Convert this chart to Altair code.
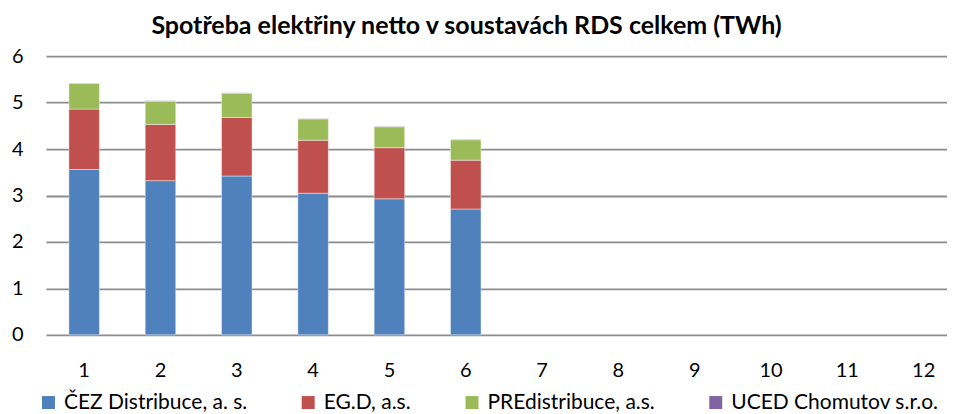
import altair as alt
import pandas as pd

months = [str(m) for m in range(1, 13)]
series = ["ČEZ Distribuce, a. s.", "EG.D, a.s.", "PREdistribuce, a.s.", "UCED Chomutov s.r.o."]
colors = ["#4F81BD", "#C0504D", "#9BBB59", "#8064A2"]

cez = [3.56, 3.32, 3.42, 3.05, 2.93, 2.71]
egd = [1.30, 1.21, 1.26, 1.14, 1.10, 1.05]
pre = [0.55, 0.50, 0.52, 0.46, 0.45, 0.44]
uced = [0.01, 0.01, 0.01, 0.01, 0.01, 0.01]

rows = []
for si, (name, vals) in enumerate(zip(series, [cez, egd, pre, uced])):
    for mi, v in enumerate(vals):
        rows.append({"month": months[mi], "series": name, "value": v, "idx": si})
df = pd.DataFrame(rows)

FONT = "Lato"

chart = alt.Chart(df).mark_bar(stroke="#ffffff", strokeWidth=0.6, strokeOpacity=0.7).encode(
    x=alt.X("month:O", scale=alt.Scale(domain=months, paddingInner=0.6, paddingOuter=0.203, align=0.74),
            axis=alt.Axis(title=None, labelAngle=0, domain=False, ticks=False,
                          labelPadding=26, labelFontSize=20, labelColor="#000000", labelFont=FONT)),
    y=alt.Y("value:Q", stack="zero", scale=alt.Scale(domain=[0, 6]),
            axis=alt.Axis(title=None, values=[0, 1, 2, 3, 4, 5, 6], domain=False, ticks=False,
                          labelPadding=23, labelFontSize=20, labelColor="#000000", labelFont=FONT,
                          gridColor="#8c8c8c", gridWidth=1.8)),
    color=alt.Color("series:N", scale=alt.Scale(domain=series, range=colors),
                    legend=alt.Legend(title=None, orient="none", legendX=-8, legendY=336,
                                      direction="horizontal",
                                      symbolType="square", symbolSize=169, symbolStrokeWidth=0,
                                      labelFontSize=21, labelFont=FONT, labelColor="#000000",
                                      labelLimit=400, columnPadding=50, labelOffset=5)),
    order=alt.Order("idx:Q", sort="ascending"),
).properties(
    width=902,
    height=279,
    padding={"left": 3, "top": 6, "right": 0, "bottom": 0},
    title=alt.TitleParams("Spotřeba elektřiny netto v soustavách RDS celkem (TWh)",
                          font=FONT, fontSize=25, fontWeight="bold", color="#000000",
                          anchor="middle", dx=-30, offset=7),
).configure_view(stroke=None).configure_axis(grid=True).configure_axisX(grid=False)

chart.save("out.html", embed_options={"renderer": "svg", "actions": False})
